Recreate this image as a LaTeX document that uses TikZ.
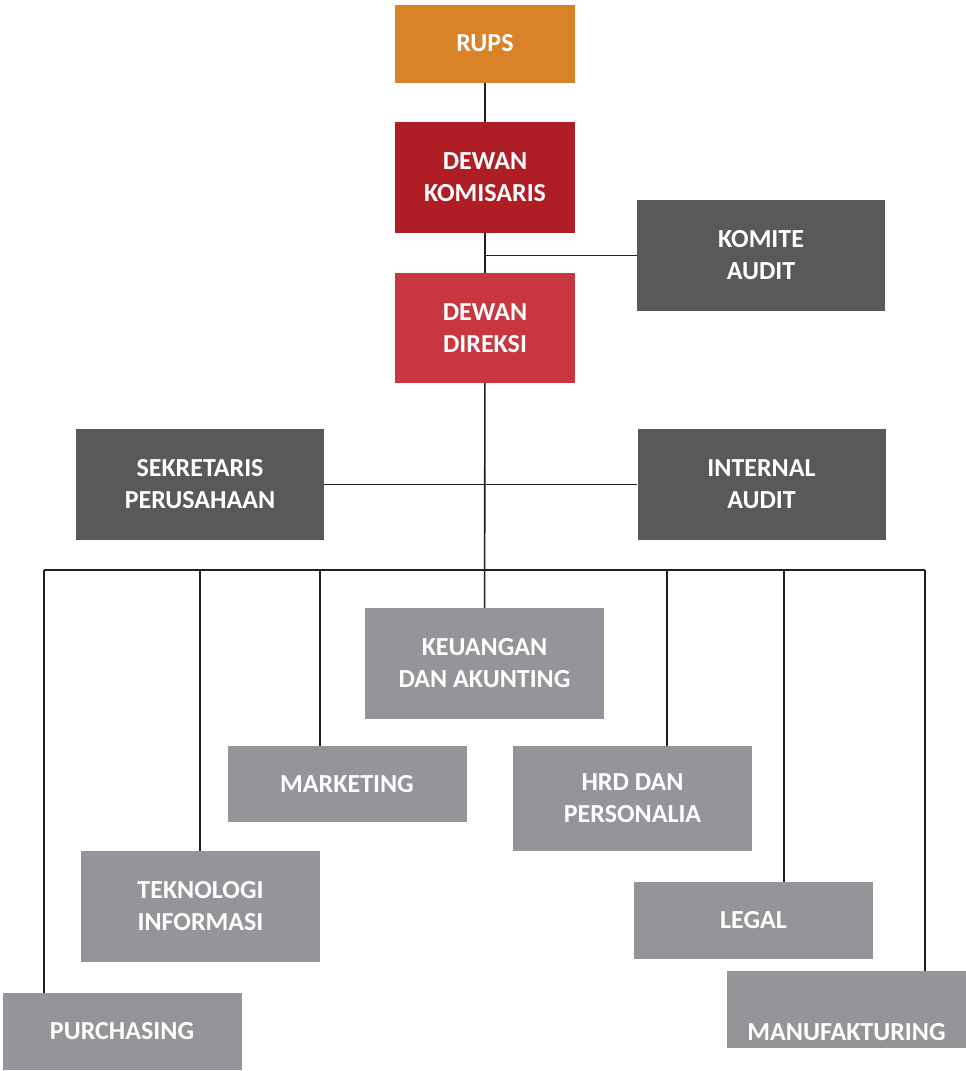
\documentclass[tikz,border=0pt]{standalone}
\usepackage{fontspec}
\setmainfont{Carlito}
\definecolor{rupsorange}{HTML}{D98227}
\definecolor{komred}{HTML}{AF1E24}
\definecolor{dirred}{HTML}{C8363F}
\definecolor{staffgrey}{HTML}{58595B}
\definecolor{deptgrey}{HTML}{939598}
\definecolor{wiregrey}{HTML}{231F20}

\begin{document}
\begin{tikzpicture}[x=1pt,y=-1pt,
  unit/.style={rectangle,inner sep=0pt,text=white,align=center,
    font=\fontsize{26}{32}\selectfont\bfseries},
  board/.style={unit,minimum width=180pt,minimum height=111pt},
  staff/.style={unit,fill=staffgrey,minimum width=248pt,minimum height=111pt},
  dept/.style={unit,fill=deptgrey,minimum width=239pt},
  wire/.style={draw=wiregrey,line width=1.6pt}]
  \useasboundingbox[fill=white] (0,0) rectangle (966,1071);

  % top of the chart
  \node[board,fill=rupsorange,minimum height=78pt] (rups) at (485,43.5) {RUPS};
  \node[board,fill=komred] (komisaris) at (485,177.5) {DEWAN\\KOMISARIS};
  \node[board,fill=dirred,minimum height=110pt] (direksi) at (485,328) {DEWAN\\DIREKSI};
  \node[staff] (komite) at (761,255.5) {KOMITE\\AUDIT};
  \node[staff] (sekretaris) at (200,484.5) {SEKRETARIS\\PERUSAHAAN};
  \node[staff] (internal) at (761.5,484.5) {INTERNAL\\AUDIT};

  % departments
  \node[dept,minimum height=111pt] (keuangan) at (484.5,663.5) {KEUANGAN\\DAN AKUNTING};
  \node[dept,minimum height=76pt] (marketing) at (347,784) {MARKETING};
  \node[dept,minimum height=105pt] (hrd) at (632.5,798.5) {HRD DAN\\PERSONALIA};
  \node[dept,minimum height=111pt] (teknologi) at (200.5,906.5) {TEKNOLOGI\\INFORMASI};
  \node[dept,minimum height=77pt] (legal) at (753.5,920.5) {LEGAL};
  \node[dept,minimum height=77pt] (purchasing) at (122,1031.5) {PURCHASING};
  \node[dept,minimum height=77pt,text height=62pt,text depth=0pt] (manufaktur) at (846.5,1009.5) {MANUFAKTURING};

  \coordinate (bus-pur) at (44,570);
  \coordinate (bus-tek) at (200,570);
  \coordinate (bus-mar) at (320,570);
  \coordinate (bus-hrd) at (667,570);
  \coordinate (bus-leg) at (784,570);
  \coordinate (bus-man) at (925,570);

  \path[wire]
    (rups) edge (komisaris)
    (komisaris) edge (direksi)
    (direksi) edge (keuangan)
    (komite.west) edge (komite.west -| komisaris.south)
    (sekretaris) edge (internal)
    (bus-pur) edge (bus-man)
    (bus-pur) edge (bus-pur |- purchasing.north)
    (bus-tek) edge (bus-tek |- teknologi.north)
    (bus-mar) edge (bus-mar |- marketing.north)
    (bus-hrd) edge (bus-hrd |- hrd.north)
    (bus-leg) edge (bus-leg |- legal.north)
    (bus-man) edge (bus-man |- manufaktur.north);
\end{tikzpicture}
\end{document}
